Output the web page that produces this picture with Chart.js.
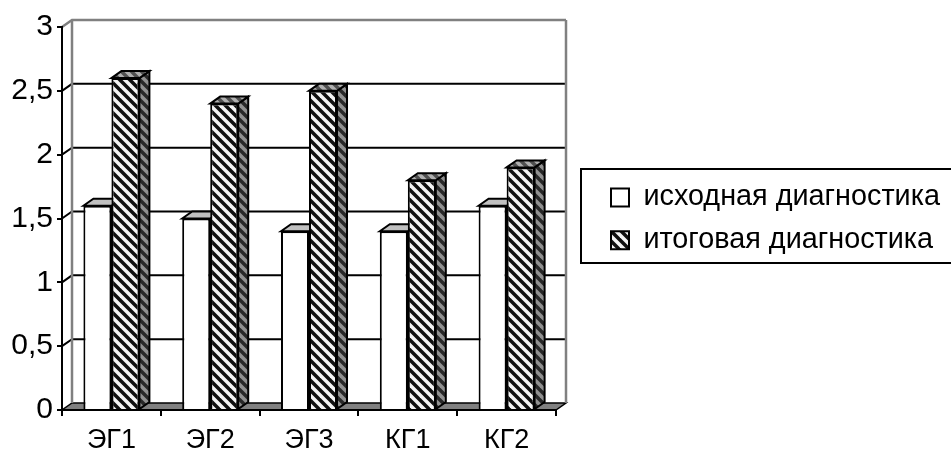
<!DOCTYPE html>
<html>
<head>
<meta charset="utf-8">
<style>
html, body { margin: 0; padding: 0; background: #fff; }
#wrap { width: 951px; height: 452px; }
</style>
<script src="https://cdn.jsdelivr.net/npm/chart.js@4"></script>
</head>
<body>
<div id="wrap"><canvas id="chart" width="951" height="452"></canvas></div>
<script>
var categories = ['ЭГ1', 'ЭГ2', 'ЭГ3', 'КГ1', 'КГ2'];
var initialValues = [1.6, 1.5, 1.4, 1.4, 1.6];
var finalValues = [2.6, 2.4, 2.5, 1.8, 1.9];
var seriesNames = ['исходная диагностика', 'итоговая диагностика'];

// depth of the fake 3d box
var DX = 10, DY = -7;

function stripes(light, dark) {
    var size = 10;
    var c = document.createElement('canvas');
    c.width = size;
    c.height = size;
    var g = c.getContext('2d');
    g.fillStyle = light;
    g.fillRect(0, 0, size, size);
    g.strokeStyle = dark;
    g.lineWidth = 3.5;
    // run past the tile so the stripes join up without notches
    [-size, 0, size].forEach(function (o) {
        g.beginPath();
        g.moveTo(o - size, -size);
        g.lineTo(o + 2 * size, 2 * size);
        g.stroke();
    });
    return g.createPattern(c, 'repeat');
}

var frontHatch = stripes('#f4f4f4', '#101010');
var sideHatch = stripes('#909090', '#282828');
var topHatch = stripes('#b0b0b0', '#505050');

function poly(g, pts, fill, stroke, width) {
    g.beginPath();
    g.moveTo(pts[0][0], pts[0][1]);
    for (var i = 1; i < pts.length; i++) g.lineTo(pts[i][0], pts[i][1]);
    g.closePath();
    if (fill) { g.fillStyle = fill; g.fill(); }
    if (stroke) { g.strokeStyle = stroke; g.lineWidth = width; g.stroke(); }
}

var box3d = {
    id: 'box3d',
    // walls, floor and grid behind everything
    beforeDraw: function (chart) {
        var g = chart.ctx, a = chart.chartArea, y = chart.scales.y;
        g.save();
        poly(g, [[a.left, a.bottom], [a.right, a.bottom], [a.right + DX, a.bottom + DY], [a.left + DX, a.bottom + DY]], '#808080', '#000', 1.5);
        y.ticks.forEach(function (t) {
            if (t.value === 0) return;
            var py = y.getPixelForValue(t.value);
            g.strokeStyle = t.value === 3 ? '#808080' : '#000';
            g.lineWidth = t.value === 3 ? 2.5 : 2;
            g.beginPath();
            g.moveTo(a.left, py);
            g.lineTo(a.left + DX, py + DY);
            g.lineTo(a.right + DX, py + DY);
            g.stroke();
        });
        g.strokeStyle = '#808080';
        g.lineWidth = 2.5;
        g.beginPath();
        g.moveTo(a.left + DX, a.top + DY);
        g.lineTo(a.left + DX, a.bottom + DY);
        g.moveTo(a.right + DX, a.top + DY);
        g.lineTo(a.right + DX, a.bottom + DY);
        g.stroke();
        g.restore();
    },
    // side and top faces, the library paints the fronts over them
    beforeDatasetsDraw: function (chart) {
        var g = chart.ctx;
        g.save();
        [0, 1].forEach(function (d) {
            chart.getDatasetMeta(d).data.forEach(function (bar) {
                var p = bar.getProps(['x', 'y', 'base', 'width']);
                var l = p.x - p.width / 2, r = p.x + p.width / 2;
                poly(g, [[r, p.y], [r + DX, p.y + DY], [r + DX, p.base + DY], [r, p.base]],
                    d ? sideHatch : '#808080', '#000', 2);
                poly(g, [[l, p.y], [l + DX, p.y + DY], [r + DX, p.y + DY], [r, p.y]],
                    d ? topHatch : '#c0c0c0', '#000', 2);
            });
        });
        g.restore();
    },
    afterLayout: function (chart) {
        var lg = chart.legend;
        var w = lg.width;
        lg.left = 597;
        lg.right = lg.left + w;
        lg.top = 169;
        lg.bottom = lg.top + lg.height;
    },
    afterDraw: function (chart) {
        var g = chart.ctx;
        g.save();
        g.strokeStyle = '#000';
        g.lineWidth = 2;
        g.strokeRect(581, 169, 375, 94);
        g.restore();
    }
};

new Chart(document.getElementById('chart'), {
    type: 'bar',
    data: {
        labels: categories,
        datasets: [{
            label: seriesNames[0],
            data: initialValues,
            backgroundColor: '#ffffff',
            borderColor: '#000',
            borderWidth: 2
        }, {
            label: seriesNames[1],
            data: finalValues,
            backgroundColor: frontHatch,
            borderColor: '#000',
            borderWidth: 2
        }]
    },
    plugins: [box3d],
    options: {
        responsive: false,
        animation: false,
        layout: { padding: { top: 27, bottom: 0, left: 0, right: 395 } },
        datasets: { bar: { categoryPercentage: 0.567, barPercentage: 1 } },
        plugins: {
            tooltip: { enabled: false },
            legend: {
                position: 'chartArea',
                align: 'start',
                labels: {
                    color: '#000',
                    font: { family: 'Liberation Sans', size: 28.8 },
                    boxWidth: 18,
                    boxHeight: 18,
                    padding: 14
                }
            }
        },
        scales: {
            x: {
                grid: { offset: true, drawOnChartArea: false, color: '#000', tickLength: 6, lineWidth: 2 },
                border: { color: '#000', width: 2 },
                ticks: { color: '#000', padding: 8, font: { family: 'Liberation Sans', size: 27 }, maxRotation: 0 },
                afterFit: function (s) { s.height = 42; }
            },
            y: {
                min: 0,
                max: 3,
                grid: { drawOnChartArea: false, color: '#000', tickLength: 5, lineWidth: 2 },
                border: { color: '#000', width: 2 },
                ticks: {
                    stepSize: 0.5,
                    color: '#000',
                    padding: 4,
                    font: { family: 'Liberation Sans', size: 30 },
                    callback: function (v) { return String(v).replace('.', ','); }
                },
                afterFit: function (s) { s.width = 62; }
            }
        }
    }
});
</script>
</body>
</html>
